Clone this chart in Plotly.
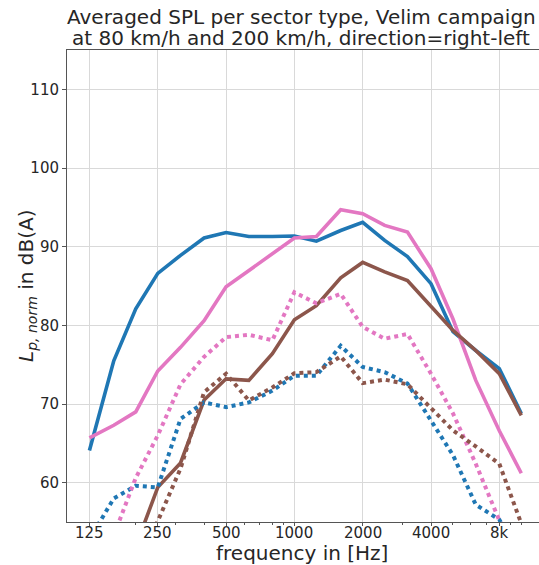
import math
import plotly.graph_objects as go

freqs = [125, 160, 200, 250, 315, 400, 500, 630, 800, 1000, 1250, 1600,
         2000, 2500, 3150, 4000, 5000, 6300, 8000, 10000]

blue_solid = [64.1, 75.5, 82.1, 86.6, 88.9, 91.1, 91.8, 91.3, 91.3, 91.35, 90.7, 92.05,
              93.1, 90.8, 88.75, 85.3, 79.2, 76.8, 74.5, 68.8]
pink_solid = [65.7, 67.3, 69.0, 74.2, 77.2, 80.6, 84.9, 87.0, 89.1, 91.1, 91.3, 94.7,
              94.2, 92.7, 91.85, 87.2, 80.8, 73.0, 66.6, 61.2]
brown_solid = [None, None, 51.9, 59.4, 62.5, 70.5, 73.2, 73.0, 76.4, 80.7, 82.5, 86.05,
               88.0, 86.8, 85.7, 82.5, 79.35, 76.8, 73.85, 68.55]
blue_dot = [52.8, 58.0, 59.6, 59.4, 68.1, 70.2, 69.6, 70.2, 71.7, 73.6, 73.6, 77.4,
            74.7, 74.05, 72.6, 67.8, 63.5, 57.2, 55.3, 50.0]
pink_dot = [None, 53.3, 60.6, 66.0, 72.5, 76.0, 78.5, 78.8, 78.1, 84.2, 82.8, 84.0,
            79.8, 78.3, 78.9, 73.85, 68.8, 62.4, 55.2, 50.0]
brown_dot = [None, None, 49.0, 55.1, 61.8, 71.5, 73.85, 70.45, 72.1, 73.9, 74.05, 76.05,
             72.65, 73.1, 72.5, 69.4, 66.65, 64.6, 62.4, 54.8]

tick_vals = [125, 250, 500, 1000, 2000, 4000, 8000]
tick_text = ["125", "250", "500", "1000", "2000", "4000", "8k"]
minor_vals = [200, 300, 400, 600, 700, 800, 900, 3000, 5000, 6000, 7000, 9000, 10000]
y_ticks = [60, 70, 80, 90, 100, 110]

title_lines = ["Averaged SPL per sector type, Velim campaign",
               "at 80 km/h and 200 km/h, direction=right-left"]
x_title = "frequency in [Hz]"
y_title = "<i>L</i><sub><i>p, norm</i></sub> in dB(A)"

BLUE = "#1f77b4"
PINK = "#e377c2"
BROWN = "#8c564b"
TXT = "#262626"

series = [
    (blue_solid, BLUE, "solid"),
    (pink_solid, PINK, "solid"),
    (brown_solid, BROWN, "solid"),
    (blue_dot, BLUE, "dot"),
    (pink_dot, PINK, "dot"),
    (brown_dot, BROWN, "dot"),
]

fig = go.Figure()
for vals, col, dash in series:
    fig.add_trace(go.Scatter(
        x=freqs, y=vals, mode="lines",
        line=dict(color=col, width=3.6 if dash == "solid" else 4, dash=dash),
        showlegend=False, connectgaps=False,
    ))

# plot area: x 67..539, y 50..522 (472 x 472 px)
PH = 472.0
annotations = [
    dict(text=title_lines[0], xref="paper", yref="paper", x=(301 - 67) / PH,
         y=(522 - 17) / PH, xanchor="center", yanchor="middle", showarrow=False,
         font=dict(size=20, color=TXT), borderpad=0),
    dict(text=title_lines[1], xref="paper", yref="paper", x=(301 - 67) / PH,
         y=(522 - 38) / PH, xanchor="center", yanchor="middle", showarrow=False,
         font=dict(size=20, color=TXT), borderpad=0),
    dict(text=y_title, xref="paper", yref="paper", x=(27 - 67) / PH, y=0.5,
         xanchor="center", yanchor="middle", textangle=-90, showarrow=False,
         font=dict(size=20, color=TXT), borderpad=0),
    dict(text=x_title, xref="paper", yref="paper", x=(302 - 67) / PH,
         y=(522 - 553) / PH, xanchor="center", yanchor="middle", showarrow=False,
         font=dict(size=20, color=TXT), borderpad=0),
]
# x tick labels (placed as text on the log axis positions)
for v, t in zip(tick_vals, tick_text):
    annotations.append(dict(text=t, xref="x", yref="paper", x=math.log10(v),
                            y=(522 - 533) / PH, xanchor="center", yanchor="middle",
                            showarrow=False, font=dict(size=15, color=TXT), borderpad=0))

fig.update_layout(
    width=539, height=565,
    margin=dict(l=67, r=0, t=50, b=43),
    paper_bgcolor="white", plot_bgcolor="white",
    font=dict(family="DejaVu Sans", color=TXT),
    annotations=annotations,
    xaxis=dict(
        type="log", range=[1.998, 4.078],
        tickmode="array", tickvals=tick_vals, ticktext=tick_text,
        showticklabels=False,
        ticks="outside", ticklen=3, tickcolor="#555555",
        showgrid=True, gridcolor="#d9d9d9", gridwidth=1,
        showline=True, linecolor="#555555", linewidth=1, mirror=True,
        zeroline=False,
        minor=dict(tickmode="array", tickvals=minor_vals, ticks="outside", ticklen=2,
                   tickcolor="#555555", showgrid=False),
    ),
    yaxis=dict(
        range=[55, 115],
        tickmode="array", tickvals=y_ticks,
        ticks="outside", ticklen=4, tickcolor="#555555",
        showgrid=True, gridcolor="#d9d9d9", gridwidth=1,
        showline=True, linecolor="#555555", linewidth=1, mirror=False,
        tickfont=dict(size=15, color=TXT),
        zeroline=False,
    ),
)

fig.write_html("out.html")
